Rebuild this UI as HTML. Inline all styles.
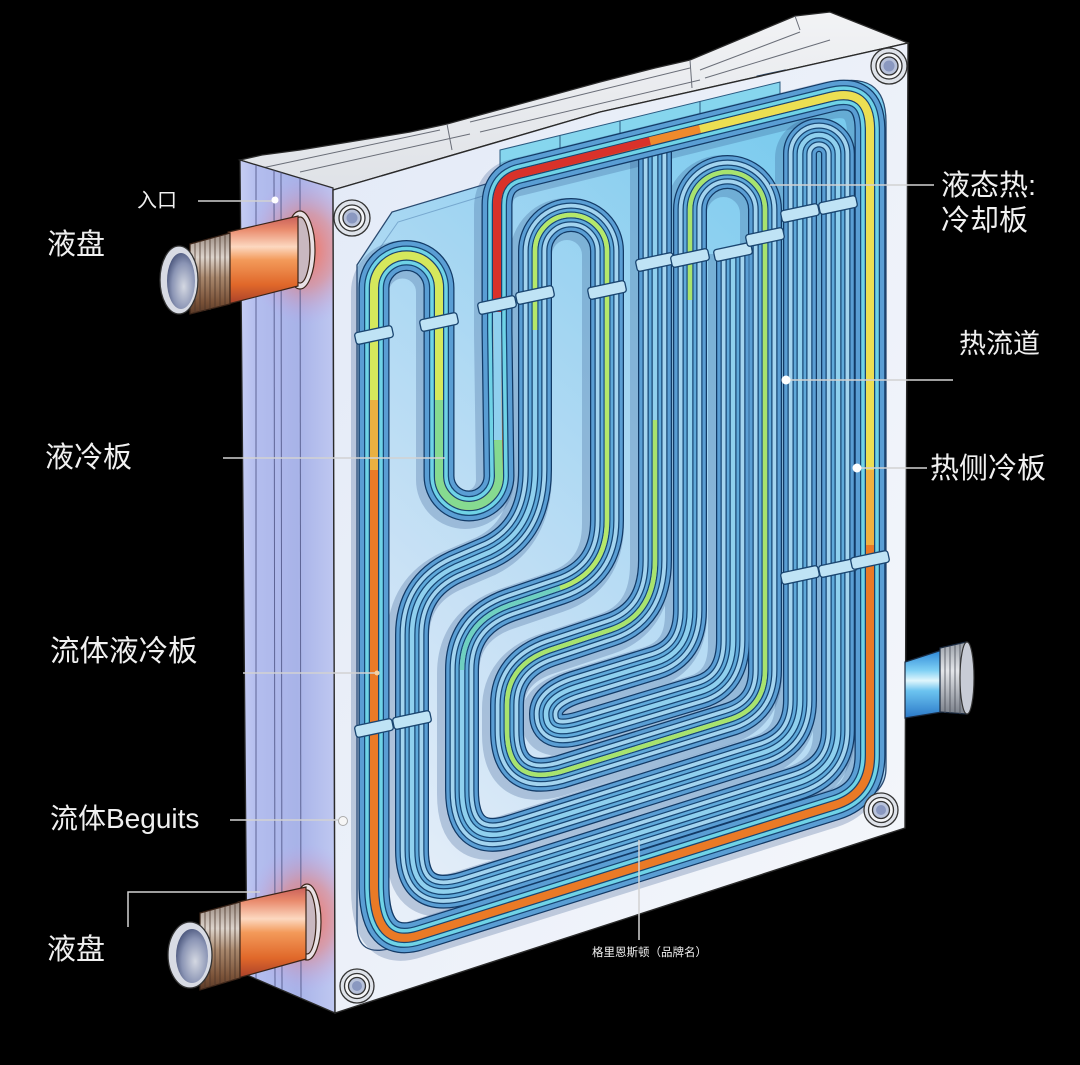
<!DOCTYPE html>
<html><head><meta charset="utf-8">
<style>
html,body{margin:0;padding:0;background:#000;}
svg{display:block;}
text{font-family:"Liberation Sans","Noto Sans CJK SC",sans-serif;fill:#f0f0f0;}
</style></head><body>
<svg width="1080" height="1065" viewBox="0 0 1080 1065" xmlns="http://www.w3.org/2000/svg">
<defs>
  <linearGradient id="sideG" x1="0" y1="0" x2="1" y2="0">
    <stop offset="0" stop-color="#c6cdf3"/>
    <stop offset="0.18" stop-color="#b3bdee"/>
    <stop offset="0.6" stop-color="#a8b3e8"/>
    <stop offset="1" stop-color="#bfc8f1"/>
  </linearGradient>
  <linearGradient id="frameG" x1="0" y1="0" x2="1" y2="1">
    <stop offset="0" stop-color="#e3eaf7"/>
    <stop offset="1" stop-color="#f5f7fb"/>
  </linearGradient>
  <linearGradient id="panelG" x1="0.75" y1="0" x2="0.2" y2="1">
    <stop offset="0" stop-color="#79cbee"/>
    <stop offset="0.35" stop-color="#a1d5f2"/>
    <stop offset="0.7" stop-color="#c8e1f5"/>
    <stop offset="1" stop-color="#e7eff9"/>
  </linearGradient>
  <linearGradient id="topG" x1="0" y1="0" x2="0" y2="1">
    <stop offset="0" stop-color="#f2f3f5"/>
    <stop offset="1" stop-color="#dfe2e7"/>
  </linearGradient>
  <linearGradient id="copperG" x1="0" y1="0" x2="0" y2="1">
    <stop offset="0" stop-color="#c85f5a"/>
    <stop offset="0.15" stop-color="#e98a6c"/>
    <stop offset="0.35" stop-color="#fcd8c0"/>
    <stop offset="0.5" stop-color="#f39a5a"/>
    <stop offset="0.78" stop-color="#e0682a"/>
    <stop offset="1" stop-color="#a8402a"/>
  </linearGradient>
  <linearGradient id="threadG" x1="0" y1="0" x2="0" y2="1">
    <stop offset="0" stop-color="#9a8a80"/>
    <stop offset="0.3" stop-color="#ddd4cc"/>
    <stop offset="0.55" stop-color="#a8876c"/>
    <stop offset="0.85" stop-color="#7a5238"/>
    <stop offset="1" stop-color="#5a3a28"/>
  </linearGradient>
  <linearGradient id="threadB" x1="0" y1="0" x2="0" y2="1">
    <stop offset="0" stop-color="#9aa0a8"/>
    <stop offset="0.4" stop-color="#e4e6ea"/>
    <stop offset="1" stop-color="#7a808a"/>
  </linearGradient>
  <linearGradient id="blueG" x1="0" y1="0" x2="0" y2="1">
    <stop offset="0" stop-color="#2a86d8"/>
    <stop offset="0.3" stop-color="#7fd0f4"/>
    <stop offset="0.45" stop-color="#e0f6fc"/>
    <stop offset="0.6" stop-color="#6cc4f0"/>
    <stop offset="1" stop-color="#2a78c8"/>
  </linearGradient>
  <radialGradient id="holeG" cx="0.6" cy="0.6" r="0.7">
    <stop offset="0" stop-color="#d4d8e2"/>
    <stop offset="0.6" stop-color="#8a94b4"/>
    <stop offset="1" stop-color="#3c4870"/>
  </radialGradient>
  <radialGradient id="glowG" cx="0.5" cy="0.5" r="0.5">
    <stop offset="0" stop-color="#ff6a4a" stop-opacity="0.9"/>
    <stop offset="0.5" stop-color="#f07a70" stop-opacity="0.5"/>
    <stop offset="1" stop-color="#c0a0f0" stop-opacity="0"/>
  </radialGradient>
  <clipPath id="sideClip"><polygon points="240,160 333,188 335,1013 247,975"/></clipPath>

  <path id="pMain" d="M 497 330 L 497 205 Q 497 178 522 173 L 830 97 Q 870 87 870 130 L 870 755 Q 870 794 835 805 L 420 935 Q 374 950 374 885 L 374 288 A 32.5 32.5 0 0 1 439 288 L 439 476 A 30 30 0 0 0 499 476 Z"/>
  <path id="pLoop" d="M 535 470 L 535 251 A 36 36 0 0 1 607 251 L 607 520 Q 607 572 560 588 L 510 605 Q 462 622 462 670 L 462 790 Q 462 846 510 832 L 762 753 Q 800 741 800 700 L 800 154 A 19 19 0 0 1 838 154 L 838 730 Q 838 771 795 784 L 465 888 Q 412 904 412 850 L 412 635 Q 412 587 455 567 L 490 552 Q 535 530 535 470 Z"/>
  <path id="pG" d="M 655 142 L 655 560 Q 655 615 610 630 L 550 650 Q 507 665 507 705 L 507 730 Q 507 786 560 772 L 728 720 Q 765 709 765 670 L 765 209.5 A 37.5 37.5 0 0 0 690 209.5 L 690 610 Q 690 652 655 663 L 580 686 Q 546 696 546 714 Q 546 738 580 728 L 700 692 Q 733 682 733 640 L 733 250"/>
</defs>

<rect width="1080" height="1065" fill="#000"/>

<!-- top surface -->
<polygon points="240,160 262,155 300,150 410,132 447,124 600,82 655,68 690,60 795,16 830,12 908,43 600,112 333,190" fill="url(#topG)" stroke="#2a2a2a" stroke-width="1.3"/>
<g stroke="#6a6e78" stroke-width="1" fill="none">
  <path d="M 262 168 L 440 130"/>
  <path d="M 300 172 L 470 134"/>
  <path d="M 470 122 L 690 68"/>
  <path d="M 480 132 L 700 80"/>
  <path d="M 700 70 L 800 32"/>
  <path d="M 705 78 L 830 40"/>
  <path d="M 447 124 L 452 150"/>
  <path d="M 690 60 L 692 88"/>
  <path d="M 795 16 L 800 30"/>
</g>
<polygon points="757,76 785,70 785,98 757,105" fill="#8fd4ee" stroke="#2a4a70" stroke-width="1"/>

<!-- side face -->
<polygon points="240,160 333,188 335,1013 247,975" fill="url(#sideG)" stroke="#2a2a2a" stroke-width="1.3"/>
<g clip-path="url(#sideClip)">
  <ellipse cx="305" cy="250" rx="60" ry="75" fill="url(#glowG)"/>
  <ellipse cx="305" cy="918" rx="60" ry="75" fill="url(#glowG)"/>
</g>
<g stroke="#4a5080" stroke-width="1" fill="none" opacity="0.8">
  <line x1="256" y1="165" x2="256" y2="979"/>
  <line x1="274" y1="170" x2="275" y2="987"/>
  <line x1="281" y1="172" x2="282" y2="990"/>
  <line x1="300" y1="178" x2="301" y2="998"/>
</g>

<!-- front face frame -->
<polygon points="333,190 600,112 908,43 905,828 335,1013" fill="url(#frameG)" stroke="#2a2a2a" stroke-width="1.4"/>
<!-- inner panel -->
<path d="M 357 265 L 392 212 L 600 150 L 828 84 Q 886 68 886 122 L 886 768 Q 886 792 860 800 L 392 948 Q 357 958 357 925 Z" fill="url(#panelG)" stroke="#2a4a70" stroke-width="1.3"/>
<path d="M 366 268 L 398 222 L 600 160 L 826 94 Q 876 80 876 124 L 876 764 Q 876 784 856 790 L 394 938 Q 366 946 366 920 Z" fill="none" stroke="#5a8ab8" stroke-width="1" opacity="0.6"/>

<!-- top manifold band -->
<polygon points="500,150 780,82 780,100 500,170" fill="#86d6ee" stroke="#2a5a80" stroke-width="1"/>
<g stroke="#2a5a80" stroke-width="1">
  <line x1="560" y1="135" x2="560" y2="155"/>
  <line x1="620" y1="121" x2="620" y2="141"/>
  <line x1="700" y1="101" x2="700" y2="121"/>
</g>

<!-- tube bundles -->
<g fill="none" stroke-linejoin="round">
  <!-- shadows -->
  <use href="#pG" stroke="#2a4f88" stroke-opacity="0.25" stroke-width="42" transform="translate(-4,4)"/>
  <use href="#pLoop" stroke="#2a4f88" stroke-opacity="0.25" stroke-width="42" transform="translate(-4,4)"/>
  <use href="#pMain" stroke="#2a4f88" stroke-opacity="0.25" stroke-width="38" transform="translate(-4,4)"/>

  <!-- G bundle -->
  <use href="#pG" stroke="#123a66" stroke-width="34"/>
  <use href="#pG" stroke="#5a9ed4" stroke-width="31.5"/>
  <use href="#pG" stroke="#174674" stroke-width="25"/>
  <use href="#pG" stroke="#a3d4ef" stroke-width="22.5"/>
  <use href="#pG" stroke="#174674" stroke-width="15"/>
  <use href="#pG" stroke="#5fa9da" stroke-width="12.5"/>
  <use href="#pG" stroke="#174674" stroke-width="7"/>
  <use href="#pG" stroke="#8fd0ee" stroke-width="4.5"/>
  <path d="M 655 420 L 655 560 Q 655 615 610 630 L 550 650 Q 507 665 507 705 L 507 730 Q 507 786 560 772 L 728 720 Q 765 709 765 670 L 765 209.5 A 37.5 37.5 0 0 0 690 209.5 L 690 300" stroke="#a8e36e" stroke-width="4.5"/>

  <!-- Loop bundle -->
  <use href="#pLoop" stroke="#123a66" stroke-width="34"/>
  <use href="#pLoop" stroke="#5a9ed4" stroke-width="31.5"/>
  <use href="#pLoop" stroke="#174674" stroke-width="25"/>
  <use href="#pLoop" stroke="#a3d4ef" stroke-width="22.5"/>
  <use href="#pLoop" stroke="#174674" stroke-width="15"/>
  <use href="#pLoop" stroke="#5fa9da" stroke-width="12.5"/>
  <use href="#pLoop" stroke="#174674" stroke-width="7"/>
  <use href="#pLoop" stroke="#8fd0ee" stroke-width="4.5"/>
  <path d="M 535 330 L 535 251 A 36 36 0 0 1 607 251 L 607 520 Q 607 572 560 588" stroke="#b5e86a" stroke-width="4.5"/>
  <path d="M 560 588 L 510 605 Q 462 622 462 670" stroke="#6fd0c0" stroke-width="4.5"/>

  <!-- main loop -->
  <use href="#pMain" stroke="#123a66" stroke-width="31"/>
  <use href="#pMain" stroke="#5a9ed4" stroke-width="28.5"/>
  <use href="#pMain" stroke="#174674" stroke-width="20"/>
  <use href="#pMain" stroke="#6fd3e6" stroke-width="17.5"/>
  <use href="#pMain" stroke="#174674" stroke-width="10.5"/>
  <use href="#pMain" stroke="#ea7a26" stroke-width="8"/>
  <path d="M 497 312 L 497 205 Q 497 178 522 173 L 650 141" stroke="#d8322a" stroke-width="8"/>
  <path d="M 650 141 L 700 129" stroke="#ef8a2c" stroke-width="8"/>
  <path d="M 700 129 L 830 97 Q 870 87 870 130 L 870 470" stroke="#ecdf52" stroke-width="8"/>
  <path d="M 870 470 L 870 545" stroke="#f0b040" stroke-width="8"/>
  <path d="M 374 470 L 374 400" stroke="#eab040" stroke-width="8"/>
  <path d="M 374 400 L 374 288 A 32.5 32.5 0 0 1 439 288 L 439 400" stroke="#d5e85c" stroke-width="8"/>
  <path d="M 439 400 L 439 476 A 30 30 0 0 0 499 476 L 498 440" stroke="#86da90" stroke-width="8"/>
  <path d="M 498 440 L 497 312" stroke="#8fd0ee" stroke-width="8"/>
</g>

<!-- collars -->
<g fill="#bfe3f5" stroke="#1a4570" stroke-width="1.3">
  <rect x="355" y="329" width="38" height="12" rx="3" transform="rotate(-12 374 335)"/>
  <rect x="420" y="316" width="38" height="12" rx="3" transform="rotate(-12 439 322)"/>
  <rect x="478" y="299" width="38" height="12" rx="3" transform="rotate(-12 497 305)"/>
  <rect x="516" y="289" width="38" height="12" rx="3" transform="rotate(-12 535 295)"/>
  <rect x="588" y="284" width="38" height="12" rx="3" transform="rotate(-12 607 290)"/>
  <rect x="636" y="256" width="38" height="12" rx="3" transform="rotate(-12 655 262)"/>
  <rect x="671" y="252" width="38" height="12" rx="3" transform="rotate(-12 690 258)"/>
  <rect x="714" y="246" width="38" height="12" rx="3" transform="rotate(-12 733 252)"/>
  <rect x="746" y="231" width="38" height="12" rx="3" transform="rotate(-12 765 237)"/>
  <rect x="781" y="207" width="38" height="12" rx="3" transform="rotate(-12 800 213)"/>
  <rect x="819" y="199" width="38" height="12" rx="3" transform="rotate(-12 838 205)"/>
  <rect x="781" y="569" width="38" height="12" rx="3" transform="rotate(-12 800 575)"/>
  <rect x="819" y="562" width="38" height="12" rx="3" transform="rotate(-12 838 568)"/>
  <rect x="851" y="554" width="38" height="12" rx="3" transform="rotate(-12 870 560)"/>
  <rect x="355" y="722" width="38" height="12" rx="3" transform="rotate(-12 374 728)"/>
  <rect x="393" y="714" width="38" height="12" rx="3" transform="rotate(-12 412 720)"/>
</g>

<!-- bolts -->
<g stroke="#333" stroke-width="1.3">
  <g transform="translate(352,218)"><circle r="18" fill="#dfe3ea"/><circle r="13" fill="#f4f5f7"/><circle r="9" fill="#b8c2da"/><circle r="5.5" fill="#8a98c0" stroke="none"/></g>
  <g transform="translate(889,66)"><circle r="18" fill="#dfe3ea"/><circle r="13" fill="#f4f5f7"/><circle r="9" fill="#b8c2da"/><circle r="5.5" fill="#8a98c0" stroke="none"/></g>
  <g transform="translate(881,810)"><circle r="17" fill="#dfe3ea"/><circle r="12.5" fill="#f4f5f7"/><circle r="8.5" fill="#b8c2da"/><circle r="5" fill="#8a98c0" stroke="none"/></g>
  <g transform="translate(357,986)"><circle r="17" fill="#dfe3ea"/><circle r="12.5" fill="#f4f5f7"/><circle r="8.5" fill="#b8c2da"/><circle r="5" fill="#8a98c0" stroke="none"/></g>
</g>

<!-- top-left copper pipe -->
<g stroke="#3a2418" stroke-width="1.2">
  <ellipse cx="300" cy="250" rx="15" ry="39" fill="#e8e0e4"/>
  <ellipse cx="300" cy="250" rx="10" ry="33" fill="#c9b8c0"/>
  <polygon points="228,232 298,216 298,286 228,304" fill="url(#copperG)"/>
  <polygon points="190,244 230,233 230,304 190,314" fill="url(#threadG)"/>
</g>
<g stroke="#4a3428" stroke-width="1" opacity="0.75">
  <line x1="195" y1="243" x2="195" y2="313"/><line x1="200" y1="241" x2="200" y2="312"/>
  <line x1="205" y1="240" x2="205" y2="311"/><line x1="210" y1="239" x2="210" y2="310"/>
  <line x1="215" y1="237" x2="215" y2="308"/><line x1="220" y1="236" x2="220" y2="307"/>
  <line x1="225" y1="234" x2="225" y2="305"/>
</g>
<ellipse cx="179" cy="280" rx="19" ry="34" fill="#d8dbe4" stroke="#333" stroke-width="1.3"/>
<ellipse cx="181" cy="281" rx="14" ry="28" fill="url(#holeG)"/>

<!-- bottom-left copper pipe -->
<g stroke="#3a2418" stroke-width="1.2">
  <ellipse cx="307" cy="922" rx="14" ry="38" fill="#e8e0e4"/>
  <ellipse cx="307" cy="922" rx="9" ry="32" fill="#c9b8c0"/>
  <polygon points="238,902 306,887 306,959 238,978" fill="url(#copperG)"/>
  <polygon points="200,913 240,902 240,978 200,990" fill="url(#threadG)"/>
</g>
<g stroke="#4a3428" stroke-width="1" opacity="0.75">
  <line x1="205" y1="912" x2="205" y2="989"/><line x1="210" y1="910" x2="210" y2="987"/>
  <line x1="215" y1="909" x2="215" y2="986"/><line x1="220" y1="908" x2="220" y2="984"/>
  <line x1="225" y1="906" x2="225" y2="983"/><line x1="230" y1="905" x2="230" y2="981"/>
  <line x1="235" y1="903" x2="235" y2="980"/>
</g>
<ellipse cx="190" cy="955" rx="22" ry="33" fill="#d8dbe4" stroke="#333" stroke-width="1.3"/>
<ellipse cx="192" cy="956" rx="16" ry="27" fill="url(#holeG)"/>

<!-- right blue pipe -->
<g stroke="#1a2a40" stroke-width="1.2">
  <polygon points="905,662 942,650 942,712 905,718" fill="url(#blueG)"/>
  <polygon points="940,648 966,642 966,714 940,712" fill="url(#threadB)"/>
</g>
<g stroke="#4a4e58" stroke-width="1" opacity="0.8">
  <line x1="945" y1="647" x2="945" y2="713"/><line x1="950" y1="646" x2="950" y2="713"/>
  <line x1="955" y1="645" x2="955" y2="713"/><line x1="960" y1="644" x2="960" y2="714"/>
</g>
<ellipse cx="967" cy="678" rx="7" ry="36" fill="#c8ccd6" stroke="#333" stroke-width="1.2"/>

<!-- label leader lines -->
<g stroke="#d2d2d2" stroke-width="1.5" fill="none">
  <line x1="198" y1="201" x2="272" y2="201"/>
  <line x1="223" y1="458" x2="445" y2="458"/>
  <line x1="243" y1="673" x2="377" y2="673"/>
  <line x1="230" y1="820" x2="338" y2="820"/>
  <polyline points="128,927 128,892 260,892"/>
  <line x1="770" y1="185" x2="934" y2="185"/>
  <line x1="790" y1="380" x2="953" y2="380"/>
  <line x1="860" y1="468" x2="927" y2="468"/>
  <line x1="639" y1="840" x2="639" y2="940"/>
</g>
<circle cx="275" cy="200" r="3.5" fill="#fff"/>
<circle cx="786" cy="380" r="4.5" fill="#fff"/>
<circle cx="857" cy="468" r="4.5" fill="#fff"/>
<circle cx="343" cy="821" r="4.5" fill="#f6f6f6" stroke="#aaa" stroke-width="1"/>
<circle cx="377" cy="673" r="2.5" fill="#f6d0a0"/>

<!-- labels -->
<text x="47" y="254" font-size="29">液盘</text>
<text x="137" y="207" font-size="20">入口</text>
<text x="45" y="467" font-size="29">液冷板</text>
<text x="50" y="661" font-size="29.5">流体液冷板</text>
<text x="50" y="828" font-size="28">流体Beguits</text>
<text x="47" y="959" font-size="29">液盘</text>
<text x="941" y="195" font-size="29">液态热:</text>
<text x="941" y="230" font-size="29">冷却板</text>
<text x="959" y="353" font-size="27">热流道</text>
<text x="930" y="478" font-size="29">热侧冷板</text>
<text x="592" y="956" font-size="11.5" fill="#dcdcdc">格里恩斯顿（品牌名）</text>
</svg>
</body></html>
